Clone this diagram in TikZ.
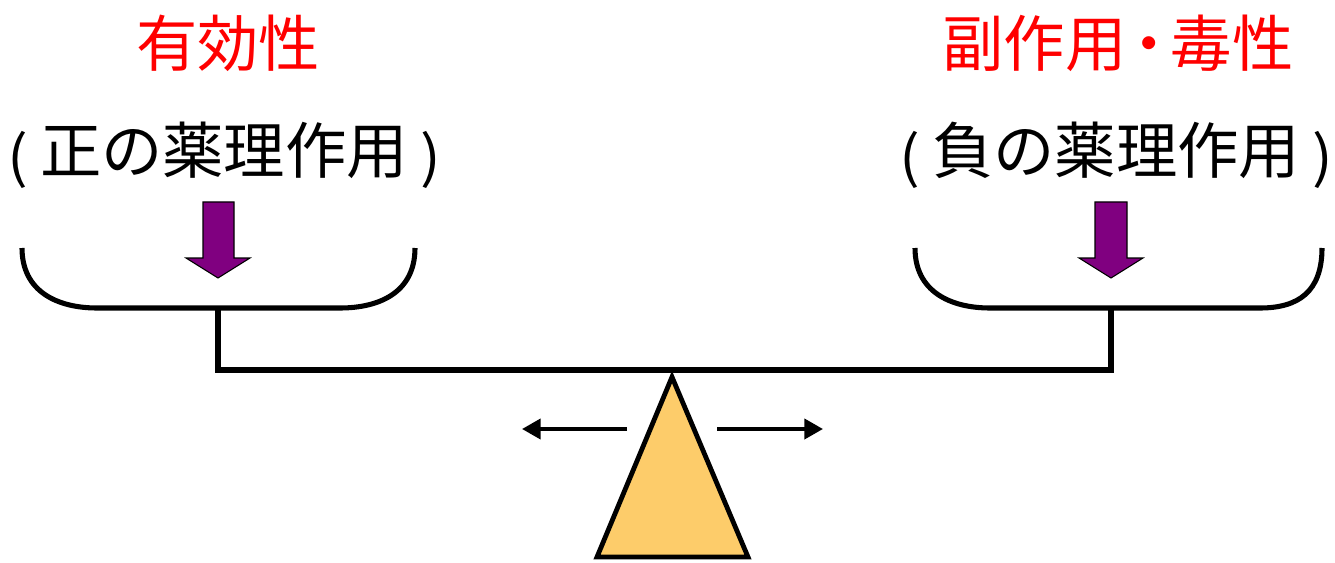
\documentclass[tikz,border=0pt]{standalone}
\usepackage{graphicx}
\usepackage{fontspec}
\setmainfont{Noto Sans CJK JP}
\usetikzlibrary{arrows.meta}
\definecolor{effred}{RGB}{255,0,0}
\definecolor{weightpurple}{RGB}{128,0,128}
\definecolor{fulcrumfill}{RGB}{253,204,106}
\tikzset{
  title/.style={text=effred, font=\fontsize{46}{50}\selectfont, inner sep=0pt},
  subtitle/.style={text=black, font=\fontsize{46}{50}\selectfont, inner sep=0pt},
  panline/.style={line width=3.8pt, line cap=butt},
  beamline/.style={line width=3.8pt, line join=miter},
  weight/.style={fill=weightpurple, draw=black, line width=0.8pt, line join=miter},
  fulcrum/.style={fill=fulcrumfill, draw=black, line width=3.6pt, line join=miter},
  tilt/.style={line width=3pt, -{Triangle[length=14pt,width=15pt]}}
}
% narrow brackets, set level with the kanji, with a little air inside
\newcommand{\brk}[1]{\raisebox{-0.06em}{\scalebox{1}[0.92]{#1}}}
\newcommand{\bracketed}[1]{\brk{(}\kern0.2em#1\kern0.2em\brk{)}}
\begin{document}
\begin{tikzpicture}[x=0.75pt,y=-0.75pt]
  \useasboundingbox (0,0) rectangle (1335,563);

  % labels
  \node[title] (effT) at (228,43) {有効性};
  \node[subtitle] (effS) at (224,155) {\bracketed{正の薬理作用}};
  \node[title] (advT) at (1118,43) {副作用\kern-0.14em・\kern-0.14em毒性};
  \node[subtitle] (advS) at (1116,155) {\bracketed{負の薬理作用}};

  % key points of the balance
  \coordinate (LpanL) at (22,248);
  \coordinate (LpanR) at (415,248);
  \coordinate (LpanM) at (218,308);
  \coordinate (RpanL) at (915,248);
  \coordinate (RpanR) at (1322,248);
  \coordinate (RpanM) at (1111,308);
  \coordinate (beamL) at (218,370);
  \coordinate (beamR) at (1111,370);
  \coordinate (apex) at (672,377);

  % left pan
  \draw[panline] (LpanL) .. controls (22,292) and (58,308) .. (97,308)
    -- (340,308) .. controls (380,308) and (415,292) .. (LpanR);
  % right pan
  \draw[panline] (RpanL) .. controls (915,292) and (951,308) .. (990,308)
    -- (1260,308) .. controls (1298,308) and (1322,292) .. (RpanR);

  % beam with hangers
  \draw[beamline] (LpanM) -- (beamL) -- (beamR) -- (RpanM);

  % downward weight arrows
  \draw[weight] (203,202) -- (234,202) -- (234,258) -- (250,258) -- (218,278)
    -- (186,258) -- (203,258) -- cycle;
  \draw[weight] (1095,202) -- (1127,202) -- (1127,258) -- (1143,258) -- (1111,278)
    -- (1079,258) -- (1095,258) -- cycle;

  % fulcrum
  \draw[fulcrum] (apex) -- (748,557) -- (597,557) -- cycle;

  % tilt arrows
  \coordinate (tlS) at (627,429);
  \coordinate (tlE) at (522,429);
  \coordinate (trS) at (717,429);
  \coordinate (trE) at (823,429);
  \draw[tilt] (tlS) -- (tlE);
  \draw[tilt] (trS) -- (trE);
\end{tikzpicture}
\end{document}
